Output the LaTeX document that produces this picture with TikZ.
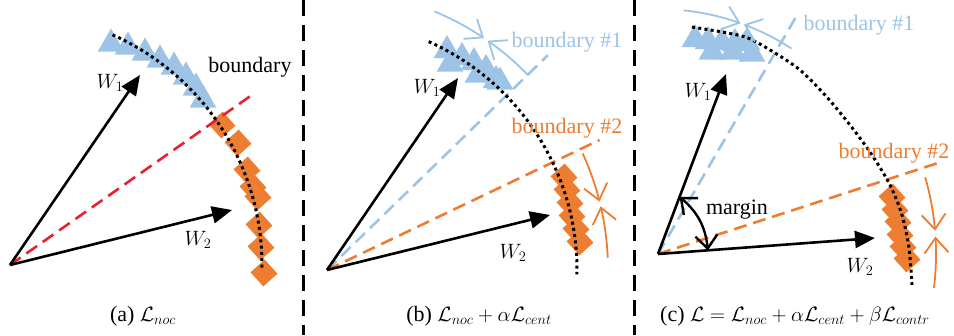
\documentclass[tikz,border=0pt]{standalone}
\usepackage{fontspec}
\setmainfont{Liberation Serif}
\usetikzlibrary{arrows.meta,shapes.geometric}
\definecolor{lblue}{RGB}{157,195,230}
\definecolor{dorange}{RGB}{237,125,49}
\definecolor{dred}{RGB}{232,32,48}
\begin{document}
\begin{tikzpicture}[x=1pt,y=1pt,
  font=\fontsize{22}{26}\selectfont,
  wvec/.style={line width=2.6pt,-{Triangle[length=20pt,width=17pt]}},
  bnd/.style={line width=2.6pt,dash pattern=on 13pt off 7pt},
  arcdot/.style={line width=3pt,dash pattern=on 3pt off 3.3pt},
  tri/.style={regular polygon,regular polygon sides=3,minimum size=31pt,inner sep=0pt,fill=lblue,draw=none},
  dia/.style={rectangle,minimum size=19pt,inner sep=0pt,fill=dorange,draw=none,rotate=42},
  cmark/.style={line width=1.8pt,-{Straight Barb[length=15pt,width=24pt,line width=1.8pt]}},
  marg/.style={line width=2.4pt,{Straight Barb[length=13pt,width=22pt,line width=2.4pt]}-{Straight Barb[length=13pt,width=22pt,line width=2.4pt]}},
  dvd/.style={line width=3pt,dash pattern=on 16pt off 9pt},
  lbl/.style={inner sep=0pt}]
\useasboundingbox (0,0) rectangle (954,335);

% dividers
\coordinate (d1t) at (303,335); \coordinate (d1b) at (303,0);
\coordinate (d2t) at (634,335); \coordinate (d2b) at (634,0);
\draw[dvd] (d1t) -- (d1b);
\draw[dvd] (d2t) -- (d2b);

% ---------------- panel (a)
\begin{scope}[shift={(10,70)}]
  \coordinate (Oa) at (0,0);
  \foreach \x/\y [count=\i] in {101/221,118/218,135/212,150/205,164/198,176/188,186/177,193/165}
    \node[tri] (ta\i) at (\x,\y) {};
  \foreach \x/\y [count=\i] in {212/140,228/122,237/95,243/78,248/68,249/40,251/18,254/-8}
    \node[dia] (da\i) at (\x,\y) {};
  \coordinate (Ra) at (35.1:299);
  \draw[bnd,dred] (Oa) -- (Ra);
  \draw[arcdot] (66:252) arc[start angle=66,end angle=-1,radius=252];
  \coordinate (W1a) at (130,190);
  \coordinate (W2a) at (222,55);
  \draw[wvec] (Oa) -- (W1a);
  \draw[wvec] (Oa) -- (W2a);
\end{scope}
\node[lbl] (lw1a) at (110,252) {$W_1$};
\node[lbl] (lw2a) at (198,95) {$W_2$};
\node[lbl] (lba) at (250,268) {boundary};
\node[lbl] (capa) at (143,19) {(a) $\mathcal{L}_{noc}$};

% ---------------- panel (b)
\begin{scope}[shift={(327,65)}]
  \coordinate (Ob) at (0,0);
  \foreach \x/\y [count=\i] in {123/206,151/195,173/188,120/219.5,135/212.5,147/207.5,159/200.5,169/189.5}
    \node[tri] (tb\i) at (\x,\y) {};
  \foreach \x/\y [count=\i] in {237/93,240/80,243/67,245/54,249/41,253/28}
    \node[dia] (db\i) at (\x,\y) {};
  \coordinate (Bb) at (44.2:308);
  \coordinate (Rb) at (25.5:302);
  \draw[bnd,lblue] (Ob) -- (Bb);
  \draw[bnd,dorange] (Ob) -- (Rb);
  \draw[arcdot] (66:250) arc[start angle=66,end angle=-1,radius=250];
  \draw[cmark,lblue] (67.4:280) arc[start angle=67.4,end angle=55.9,radius=280];
  \draw[cmark,lblue] (44:280) arc[start angle=44,end angle=55,radius=280];
  \draw[cmark,dorange] (24.5:281) arc[start angle=24.5,end angle=14.1,radius=281];
  \draw[cmark,dorange] (2.5:281) arc[start angle=2.5,end angle=13.1,radius=281];
  \coordinate (W1b) at (131,192);
  \coordinate (W2b) at (223,55);
  \draw[wvec] (Ob) -- (W1b);
  \draw[wvec] (Ob) -- (W2b);
\end{scope}
\node[lbl] (lw1b) at (427,247) {$W_1$};
\node[lbl] (lw2b) at (513,82) {$W_2$};
\node[lbl,text=lblue] (lbb1) at (567,293) {boundary \#1};
\node[lbl,text=dorange] (lbb2) at (567,207) {boundary \#2};
\node[lbl] (capb) at (479,19) {(b) $\mathcal{L}_{noc}+\alpha\mathcal{L}_{cent}$};

% ---------------- panel (c)
\begin{scope}[shift={(658,81)}]
  \coordinate (Oc) at (0,0);
  \foreach \x/\y [count=\i] in {54/202,75/202,94/200,37/214.5,50/212.5,64/211.5,77/210.5,89/211.5}
    \node[tri] (tc\i) at (\x,\y) {};
  \foreach \x/\y [count=\i] in {234/57,237/44,240/32,242/19,245/7,249/-5}
    \node[dia] (dc\i) at (\x,\y) {};
  \coordinate (Bc) at (59.8:279);
  \coordinate (Rc) at (18:293);
  \draw[bnd,lblue] (Oc) -- (Bc);
  \draw[bnd,dorange] (Oc) -- (Rc);
  \draw[arcdot] plot[smooth] coordinates {(34,227) (64,222) (90,216) (117,201) (142,184) (167,159) (192,129) (214,99) (232,69) (244,39) (251,6) (254,-31)};
  \draw[cmark,lblue] (84:245) arc[start angle=84,end angle=70.3,radius=245];
  \draw[cmark,lblue] (57:245) arc[start angle=57,end angle=69.5,radius=245];
  \draw[cmark,dorange] (16:278) arc[start angle=16,end angle=4.8,radius=278];
  \draw[cmark,dorange] (-7:278) arc[start angle=-7,end angle=3.6,radius=278];
  \coordinate (W1c) at (68,180);
  \coordinate (W2c) at (217,16);
  \draw[wvec] (Oc) -- (W1c);
  \draw[wvec] (Oc) -- (W2c);
  \coordinate (M1) at (69.3:61);
  \coordinate (M2) at (4.2:50);
  \draw[marg] (M1) to[bend left=22] (M2);
\end{scope}
\node[lbl] (lw1c) at (698,243) {$W_1$};
\node[lbl] (lw2c) at (860,68) {$W_2$};
\node[lbl] (lmg) at (737,125) {margin};
\node[lbl,text=lblue] (lbc1) at (859,310) {boundary \#1};
\node[lbl,text=dorange] (lbc2) at (894,182) {boundary \#2};
\node[lbl] (capc) at (795,19) {(c) $\mathcal{L}=\mathcal{L}_{noc}+\alpha\mathcal{L}_{cent}+\beta\mathcal{L}_{contr}$};
\end{tikzpicture}
\end{document}
